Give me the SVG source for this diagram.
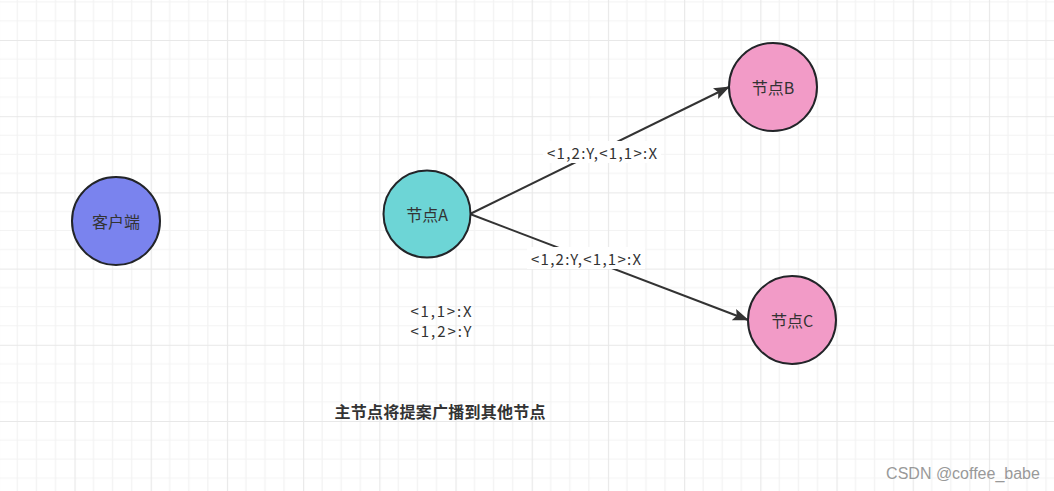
<svg xmlns="http://www.w3.org/2000/svg" width="1054" height="491" viewBox="0 0 1054 491">
<defs>
<pattern id="grid" patternUnits="userSpaceOnUse" x="-1.7" y="40" width="76.2" height="76.2">
<rect width="76.2" height="76.2" fill="#ffffff"/>
<path d="M19.05 0V76.2M38.1 0V76.2M57.15 0V76.2M0 19.05H76.2M0 38.1H76.2M0 57.15H76.2" stroke="#f3f3f3" stroke-width="1.2" fill="none"/>
<path d="M0.5 0V76.2M0 0.5H76.2" stroke="#e8e8e8" stroke-width="1.2" fill="none"/>
</pattern>
<marker id="arrow" viewBox="0 0 16 12" refX="15" refY="6" markerWidth="16" markerHeight="12" markerUnits="userSpaceOnUse" orient="auto">
<path d="M0 0L16 6L0 12L3 6Z" fill="#333333"/>
</marker>
<style>
.node{stroke:#222428;stroke-width:2}
.lbl{font-family:"Noto Sans CJK SC","Microsoft YaHei",sans-serif;font-size:16px;fill:#333333;text-anchor:middle;dominant-baseline:central}
.edge{stroke:#333333;stroke-width:2;fill:none;marker-end:url(#arrow)}
.elbl{font-family:"Noto Sans CJK SC",sans-serif;font-size:15px;fill:#333333;text-anchor:middle;dominant-baseline:central}
</style>
</defs>
<rect width="1054" height="491" fill="url(#grid)"/>
<g id="connectors">
<path class="edge" d="M470 214L729 87"/>
<path class="edge" d="M470 214L748 320"/>
<rect x="543" y="141" width="118" height="22" fill="#ffffff"/>
<text class="elbl" x="602" y="152" textLength="110" lengthAdjust="spacing">&lt;1,2:Y,&lt;1,1&gt;:X</text>
<rect x="527" y="247" width="118" height="22" fill="#ffffff"/>
<text class="elbl" x="586" y="258" textLength="110" lengthAdjust="spacing">&lt;1,2:Y,&lt;1,1&gt;:X</text>
</g>
<g id="client">
<circle class="node" cx="116" cy="221" r="44" fill="#7a83ee"/>
<text class="lbl" x="116" y="221">客户端</text>
</g>
<g id="nodeA">
<circle class="node" cx="427" cy="214" r="43.5" fill="#6dd5d6"/>
<text class="lbl" x="427" y="214">节点A</text>
</g>
<g id="nodeB">
<circle class="node" cx="773" cy="87" r="44" fill="#f29bc7"/>
<text class="lbl" x="773" y="87">节点B</text>
</g>
<g id="nodeC">
<circle class="node" cx="792" cy="320" r="44" fill="#f29bc7"/>
<text class="lbl" x="792" y="320">节点C</text>
</g>
<g id="notes">
<text class="elbl" x="441" y="310" textLength="61" lengthAdjust="spacing">&lt;1,1&gt;:X</text>
<text class="elbl" x="441" y="330" textLength="61" lengthAdjust="spacing">&lt;1,2&gt;:Y</text>
<text x="440" y="411" font-family="'Noto Sans CJK SC',sans-serif" font-size="16" font-weight="bold" fill="#333333" text-anchor="middle" dominant-baseline="central" textLength="211" lengthAdjust="spacing">主节点将提案广播到其他节点</text>
<text x="963" y="479" font-family="'Liberation Sans',Arial,sans-serif" font-size="16" fill="#999999" text-anchor="middle">CSDN @coffee_babe</text>
</g>
</svg>
